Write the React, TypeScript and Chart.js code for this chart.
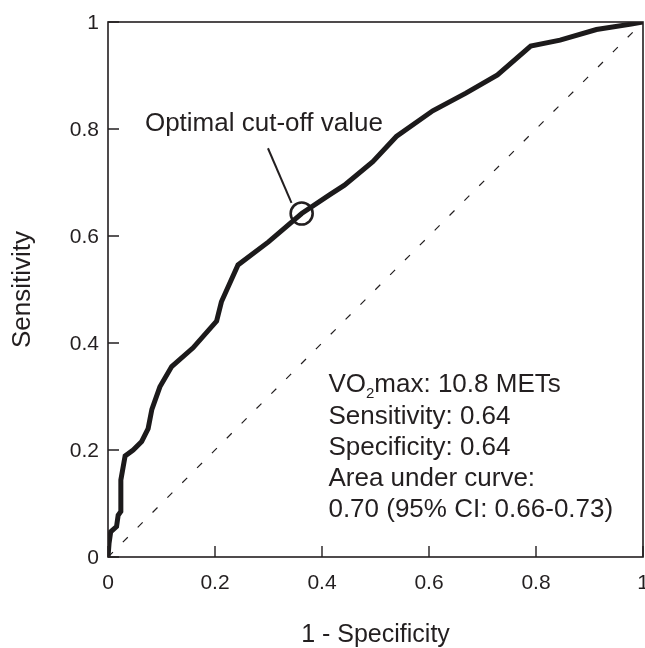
import { useEffect, useRef } from "react";
import { Chart, registerables } from "chart.js";

Chart.register(...registerables);

// ROC curve (1 - specificity, sensitivity)
const fprValues = [
  0, 0.002, 0.005, 0.016, 0.019, 0.024, 0.024, 0.032, 0.047, 0.063, 0.075, 0.082,
  0.097, 0.119, 0.159, 0.203, 0.212, 0.243, 0.3, 0.362, 0.414, 0.442, 0.495, 0.539,
  0.607, 0.669, 0.728, 0.79, 0.845, 0.913, 0.978, 1,
];
const tprValues = [
  0, 0.026, 0.047, 0.057, 0.078, 0.085, 0.144, 0.189, 0.2, 0.216, 0.24, 0.276,
  0.318, 0.356, 0.391, 0.441, 0.477, 0.546, 0.589, 0.642, 0.677, 0.695, 0.739, 0.786,
  0.834, 0.867, 0.901, 0.955, 0.966, 0.986, 0.996, 1,
];

// chance diagonal
const chanceX = [0, 1];
const chanceY = [0, 1];

// optimal cut-off marker and leader line
const cutoffX = [0.362];
const cutoffY = [0.642];
const leaderX = [0.299, 0.343];
const leaderY = [0.764, 0.662];

// axis ticks
const tickValues = [0, 0.2, 0.4, 0.6, 0.8, 1];
const tickLabels = ["0", "0.2", "0.4", "0.6", "0.8", "1"];

const xTitle = "1 - Specificity";
const yTitle = "Sensitivity";
const cutoffLabel = "Optimal cut-off value";
const cutoffLabelPos = [0.069, 0.796];
const statsPos = [0.412, 0.308];
const statsLines = [
  "Sensitivity: 0.64",
  "Specificity: 0.64",
  "Area under curve:",
  "0.70 (95% CI: 0.66-0.73)",
];
const statsFirst = ["VO", "2", "max: 10.8 METs"];

const FONT = "'Liberation Sans', Arial, Helvetica, sans-serif";
const INK = "#231f20";

const toPoints = (xs: number[], ys: number[]) => xs.map((x, i) => ({ x, y: ys[i] }));

const framePlugin = {
  id: "frame",
  afterDatasetsDraw(chart: any) {
    const { ctx, chartArea, scales } = chart;
    const xs = scales.x;
    const ys = scales.y;
    ctx.save();
    // box
    ctx.strokeStyle = INK;
    ctx.lineWidth = 1.6;
    ctx.strokeRect(chartArea.left, chartArea.top, chartArea.right - chartArea.left, chartArea.bottom - chartArea.top);
    // inward ticks
    ctx.lineWidth = 1.4;
    ctx.beginPath();
    tickValues.forEach((v) => {
      const px = xs.getPixelForValue(v);
      ctx.moveTo(px, chartArea.bottom);
      ctx.lineTo(px, chartArea.bottom - 11);
      const py = ys.getPixelForValue(v);
      ctx.moveTo(chartArea.left, py);
      ctx.lineTo(chartArea.left + 11, py);
    });
    ctx.stroke();

    // tick labels
    ctx.fillStyle = INK;
    ctx.font = `21px ${FONT}`;
    ctx.textBaseline = "middle";
    ctx.textAlign = "center";
    tickValues.forEach((v, i) => {
      ctx.fillText(tickLabels[i], xs.getPixelForValue(v), chartArea.bottom + 26);
    });
    ctx.textAlign = "right";
    tickValues.forEach((v, i) => {
      ctx.fillText(tickLabels[i], chartArea.left - 9, ys.getPixelForValue(v) + 1);
    });

    // annotation texts
    ctx.textBaseline = "alphabetic";
    ctx.textAlign = "left";
    ctx.font = `26px ${FONT}`;
    ctx.fillText(cutoffLabel, xs.getPixelForValue(cutoffLabelPos[0]), ys.getPixelForValue(cutoffLabelPos[1]));

    const sx = xs.getPixelForValue(statsPos[0]);
    const sy = ys.getPixelForValue(statsPos[1]);
    const gap = 31.3;
    // first line with subscript
    let cx = sx;
    ctx.font = `26px ${FONT}`;
    ctx.fillText(statsFirst[0], cx, sy);
    cx += ctx.measureText(statsFirst[0]).width;
    ctx.font = `15px ${FONT}`;
    ctx.fillText(statsFirst[1], cx, sy + 6);
    cx += ctx.measureText(statsFirst[1]).width;
    ctx.font = `26px ${FONT}`;
    ctx.fillText(statsFirst[2], cx, sy);
    statsLines.forEach((t, i) => {
      ctx.fillText(t, sx, sy + gap * (i + 1));
    });
    ctx.restore();
  },
};

export default function App() {
  const ref = useRef<HTMLCanvasElement | null>(null);

  useEffect(() => {
    if (!ref.current) return;
    const chart = new Chart(ref.current, {
      type: "scatter",
      data: {
        datasets: [
          {
            data: toPoints(chanceX, chanceY),
            showLine: true,
            borderColor: INK,
            borderWidth: 1.2,
            borderDash: [7, 14],
            pointRadius: 0,
            fill: false,
          },
          {
            data: toPoints(fprValues, tprValues),
            showLine: true,
            borderColor: "#1c1a1b",
            borderWidth: 5,
            borderJoinStyle: "miter",
            borderCapStyle: "butt",
            pointRadius: 0,
            tension: 0,
            fill: false,
          },
          {
            data: toPoints(leaderX, leaderY),
            showLine: true,
            borderColor: INK,
            borderWidth: 2,
            pointRadius: 0,
            fill: false,
          },
          {
            data: toPoints(cutoffX, cutoffY),
            showLine: false,
            pointRadius: 11,
            pointBorderWidth: 2.6,
            pointBorderColor: INK,
            pointBackgroundColor: "rgba(0,0,0,0)",
          },
        ],
      } as any,
      options: {
        animation: false,
        responsive: false,
        devicePixelRatio: 1,
        events: [],
        layout: { autoPadding: false, padding: { top: 22, right: 2, left: 0, bottom: 0 } },
        plugins: { legend: { display: false }, tooltip: { enabled: false } },
        scales: {
          x: {
            type: "linear",
            min: 0,
            max: 1,
            afterBuildTicks: (s: any) => {
              s.ticks = tickValues.map((v) => ({ value: v }));
            },
            afterFit: (s: any) => {
              s.height = 91;
            },
            grid: { display: false, drawTicks: false },
            border: { display: false },
            ticks: { display: false },
            title: {
              display: true,
              text: xTitle,
              color: INK,
              font: { family: FONT, size: 25, lineHeight: 1 },
              padding: { top: 0, bottom: 0 },
            },
          },
          y: {
            type: "linear",
            min: 0,
            max: 1,
            afterBuildTicks: (s: any) => {
              s.ticks = tickValues.map((v) => ({ value: v }));
            },
            afterFit: (s: any) => {
              s.width = 108;
            },
            grid: { display: false, drawTicks: false },
            border: { display: false },
            ticks: { display: false },
            title: {
              display: true,
              text: yTitle,
              color: INK,
              font: { family: FONT, size: 26, lineHeight: 1 },
              padding: { top: 10, bottom: 0 },
            },
          },
        },
      },
      plugins: [framePlugin],
    } as any);
    return () => chart.destroy();
  }, []);

  return (
    <div style={{ position: "absolute", left: 0, top: 0, width: 645, height: 648, background: "#fff" }}>
      <canvas ref={ref} width={645} height={648} style={{ display: "block" }} />
    </div>
  );
}
